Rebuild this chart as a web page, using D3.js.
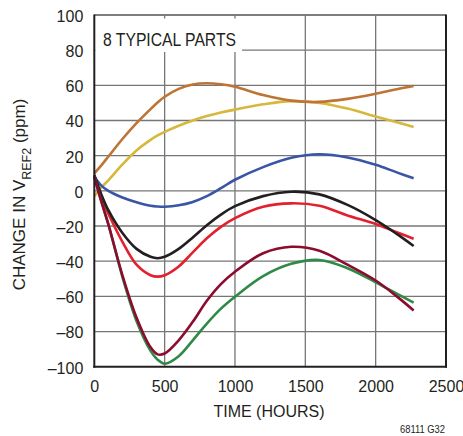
<!DOCTYPE html>
<html>
<head>
<meta charset="utf-8">
<script src="https://cdn.jsdelivr.net/npm/d3@7"></script>
<style>
  html, body { margin: 0; padding: 0; background: #fff; }
  svg { display: block; font-family: "Liberation Sans", Arial, sans-serif; }
</style>
</head>
<body>
<svg id="chart" width="463" height="436"></svg>
<script>
// ---- data ----
const hours = [0, 50, 100, 200, 300, 400, 450, 500, 600, 700, 800, 900, 1000, 1200, 1400, 1600, 1800, 2000, 2150, 2270];

const yellowPart = [-3, 2, 6, 15, 23, 29, 31.5, 33.5, 37, 40, 42.5, 44.5, 46.2, 49.2, 51, 50, 46.8, 42.3, 39, 36.3];
const brownPart  = [10, 14.5, 19.5, 29.5, 38.5, 46.5, 50.2, 53.5, 58, 60.5, 61.2, 60.6, 59.2, 54.5, 51.3, 50.6, 52.3, 55.2, 57.8, 59.6];
const bluePart   = [8, 3, 0, -3.8, -6.5, -8.5, -8.9, -9, -8.2, -6.3, -3, 1.5, 6.3, 13.5, 18.8, 20.8, 19, 14.8, 10.5, 7.2];
const redPart    = [8.5, -4, -13, -29, -42, -48, -48.8, -48, -43, -35, -27, -20.5, -15.5, -9, -7.1, -8.5, -14, -18.8, -23.5, -27.2];
const blackPart  = [9, -2, -11, -24, -33, -37.5, -38.3, -37.5, -33, -26.5, -19.5, -13.5, -8.7, -3, -0.5, -2, -8, -16.6, -24.5, -31.4];
const greenPart  = [8, -6, -19, -49, -74, -91, -96, -98.3, -94, -85, -75.5, -67, -60.2, -48.5, -41.5, -39.3, -44, -52, -58.5, -63.6];
const maroonPart = [8, -6, -19, -48, -72, -89, -93, -92.5, -85, -74.5, -62.5, -53, -46, -35.5, -31.8, -34, -42, -51, -60, -68];

const seriesNames  = ["yellow", "brown", "blue", "red", "black", "green", "maroon"];
const seriesValues = [yellowPart, brownPart, bluePart, redPart, blackPart, greenPart, maroonPart];
const seriesColors = ["#d6b83c", "#bd7434", "#3a55a6", "#e3202e", "#231f20", "#2f8a48", "#8c0b2e"];

const xTickValues = [0, 500, 1000, 1500, 2000, 2500];
const xTickLabels = ["0", "500", "1000", "1500", "2000", "2500"];
const yTickValues = [-100, -80, -60, -40, -20, 0, 20, 40, 60, 80, 100];
const yTickLabels = ["\u2013100", "\u201380", "\u201360", "\u201340", "\u201320", "0", "20", "40", "60", "80", "100"];

const xTitle = "TIME (HOURS)";
const yTitleMain = "CHANGE IN V";
const yTitleSub = "REF2";
const yTitleTail = " (ppm)";
const noteText = "8 TYPICAL PARTS";
const figId = "68111 G32";

// ---- layout ----
const L = 94.3, R = 446, T = 15, B = 366.7;
const x = d3.scaleLinear().domain([0, 2500]).range([L, R]);
const y = d3.scaleLinear().domain([-100, 100]).range([B, T]);

const svg = d3.select("#chart");

// gridlines
const grid = svg.append("g").attr("stroke", "#767676").attr("stroke-width", 1.3);
grid.selectAll("line.v").data(xTickValues.filter(v => v > 0 && v < 2500)).join("line")
  .attr("x1", d => x(d)).attr("x2", d => x(d)).attr("y1", T).attr("y2", B);
grid.selectAll("line.h").data(yTickValues.filter(v => v > -100)).join("line")
  .attr("x1", L).attr("x2", R).attr("y1", d => y(d)).attr("y2", d => y(d));

// note box (hides gridlines behind it)
svg.append("rect").attr("x", L + 1).attr("y", T + 3.5).attr("width", 242 - L - 1).attr("height", 52 - T - 3.5)
  .attr("fill", "#fff");
svg.append("text").attr("x", 103).attr("y", 45.5).attr("font-size", 18)
  .attr("textLength", 133).attr("lengthAdjust", "spacingAndGlyphs")
  .attr("fill", "#231f20").text(noteText);

// series
const line = d3.line().x((d, i) => x(hours[i])).y(d => y(d)).curve(d3.curveCatmullRom.alpha(0.5));
svg.append("g").selectAll("path").data(seriesValues).join("path")
  .attr("d", d => line(d))
  .attr("fill", "none")
  .attr("stroke", (d, i) => seriesColors[i])
  .attr("stroke-width", 2.6)
  .attr("stroke-linejoin", "round")
  .attr("stroke-linecap", "butt");

// frame
svg.append("line").attr("x1", L).attr("x2", R).attr("y1", T).attr("y2", T).attr("stroke", "#767676").attr("stroke-width", 1.3);
svg.append("line").attr("x1", R).attr("x2", R).attr("y1", T - 0.6).attr("y2", B + 1).attr("stroke", "#231f20").attr("stroke-width", 2);
svg.append("line").attr("x1", L).attr("x2", L).attr("y1", T - 0.6).attr("y2", B + 1).attr("stroke", "#231f20").attr("stroke-width", 2);
svg.append("line").attr("x1", L - 1).attr("x2", R + 1).attr("y1", B).attr("y2", B).attr("stroke", "#231f20").attr("stroke-width", 2);

// axes (labels only)
const xAxis = d3.axisBottom(x).tickValues(xTickValues).tickSize(0).tickPadding(14)
  .tickFormat((d, i) => xTickLabels[i]);
const gx = svg.append("g").attr("transform", `translate(0,${B})`).call(xAxis);
gx.select(".domain").remove();
gx.selectAll("text").attr("font-size", 16).attr("font-family", "Liberation Sans, Arial, sans-serif").attr("fill", "#231f20");

const yAxis = d3.axisLeft(y).tickValues(yTickValues).tickSize(0).tickPadding(11)
  .tickFormat((d, i) => yTickLabels[i]);
const gy = svg.append("g").attr("transform", `translate(${L},0)`).call(yAxis);
gy.select(".domain").remove();
gy.selectAll("text").attr("font-size", 16).attr("dy", "0.4em").attr("font-family", "Liberation Sans, Arial, sans-serif").attr("fill", "#231f20");

// titles
svg.append("text").attr("x", 269).attr("y", 417).attr("text-anchor", "middle")
  .attr("font-size", 16).attr("fill", "#231f20").text(xTitle);

const yt = svg.append("text").attr("transform", "translate(24.5,194.5) rotate(-90)")
  .attr("text-anchor", "middle").attr("font-size", 17).attr("fill", "#231f20");
yt.append("tspan").text(yTitleMain);
yt.append("tspan").attr("font-size", 12.5).attr("dy", 6.5).text(yTitleSub);
yt.append("tspan").attr("dy", -6.5).text(yTitleTail);

svg.append("text").attr("x", 445).attr("y", 433).attr("text-anchor", "end")
  .attr("font-size", 11).attr("textLength", 45).attr("lengthAdjust", "spacingAndGlyphs")
  .attr("fill", "#231f20").text(figId);
</script>
</body>
</html>
